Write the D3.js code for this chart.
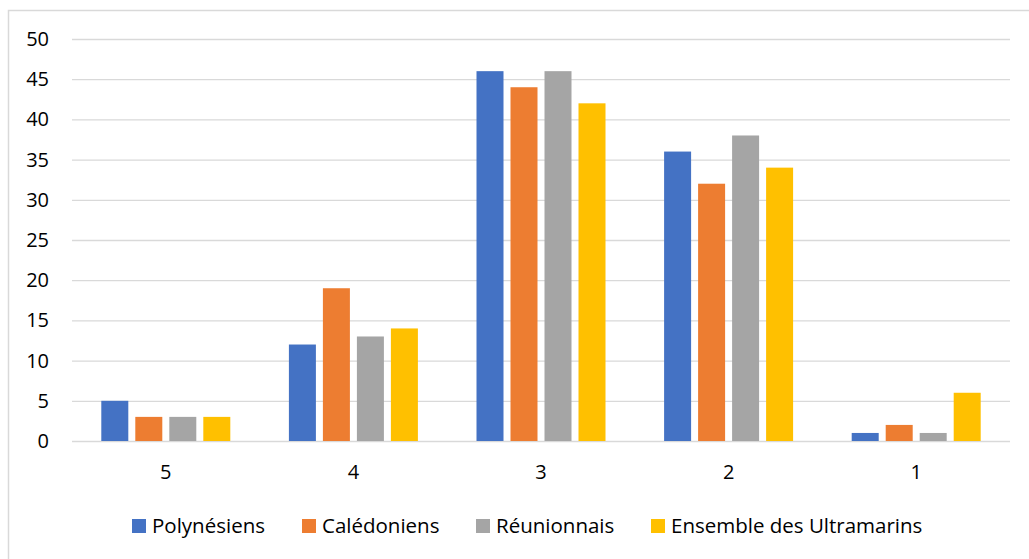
<!DOCTYPE html>
<html>
<head>
<meta charset="utf-8">
<script src="https://cdn.jsdelivr.net/npm/d3@7"></script>
<style>
  body { margin: 0; background: #fff; }
  text { font-family: "Open Sans", sans-serif; fill: #000; }
</style>
</head>
<body>
<div id="chart"></div>
<script>
var categories = ["5", "4", "3", "2", "1"];
var series = ["Polynésiens", "Calédoniens", "Réunionnais", "Ensemble des Ultramarins"];
var colors = ["#4472C4", "#ED7D31", "#A5A5A5", "#FFC000"];
var polynesiens = [5, 12, 46, 36, 1];
var caledoniens = [3, 19, 44, 32, 2];
var reunionnais = [3, 13, 46, 38, 1];
var ensemble    = [3, 14, 42, 34, 6];
var yTicks = [0, 5, 10, 15, 20, 25, 30, 35, 40, 45, 50];

var values = [polynesiens, caledoniens, reunionnais, ensemble];

var width = 1029, height = 559;
var fontSize = "20px";
var svg = d3.select("#chart").append("svg")
  .attr("width", width)
  .attr("height", height);

// chart frame
svg.append("rect")
  .attr("x", 8.5).attr("y", 10.5)
  .attr("width", 1030).attr("height", 560)
  .attr("fill", "#fff")
  .attr("stroke", "#D9D9D9")
  .attr("stroke-width", 1.5);

var plot = {left: 72, right: 1010, top: 39, bottom: 441};

var xScale = d3.scaleBand()
  .domain(categories)
  .range([plot.left, plot.right]);

var xInner = d3.scaleBand()
  .domain(series)
  .range([0, 129])
  .paddingInner(7 / 34);

var yScale = d3.scaleLinear()
  .domain([0, 50])
  .range([plot.bottom, plot.top]);

// gridlines + y labels
var yAxis = d3.axisLeft(yScale)
  .tickValues(yTicks)
  .tickSize(-(plot.right - plot.left))
  .tickPadding(23);

var yG = svg.append("g")
  .attr("transform", "translate(" + plot.left + ",0)")
  .call(yAxis);
yG.select(".domain").remove();
yG.selectAll(".tick line").attr("stroke", "#D9D9D9").attr("stroke-width", 1.3);
yG.selectAll(".tick text")
  .style("font-size", fontSize)
  .attr("fill", "#000");

// bars
series.forEach(function(s, si) {
  svg.append("g")
    .attr("fill", colors[si])
    .selectAll("rect")
    .data(values[si])
    .enter()
    .append("rect")
    .attr("x", function(d, i) { return xScale(categories[i]) + xScale.bandwidth() / 2 - 64.5 + xInner(s); })
    .attr("y", function(d) { return yScale(d); })
    .attr("width", xInner.bandwidth())
    .attr("height", function(d) { return yScale(0) - yScale(d); });
});

// x axis labels
var xAxis = d3.axisBottom(xScale).tickSize(0).tickPadding(24);
var xG = svg.append("g")
  .attr("transform", "translate(0," + plot.bottom + ")")
  .call(xAxis);
xG.select(".domain").remove();
xG.selectAll(".tick text")
  .style("font-size", fontSize)
  .attr("fill", "#000");

// legend
var legendX = [132, 302, 476, 651];
var legend = svg.append("g");
series.forEach(function(s, si) {
  var g = legend.append("g").attr("transform", "translate(" + legendX[si] + ",519)");
  g.append("rect")
    .attr("width", 14).attr("height", 14)
    .attr("fill", colors[si]);
  g.append("text")
    .attr("x", 20).attr("y", 14)
    .style("font-size", "20.5px")
    .text(s);
});
</script>
</body>
</html>
